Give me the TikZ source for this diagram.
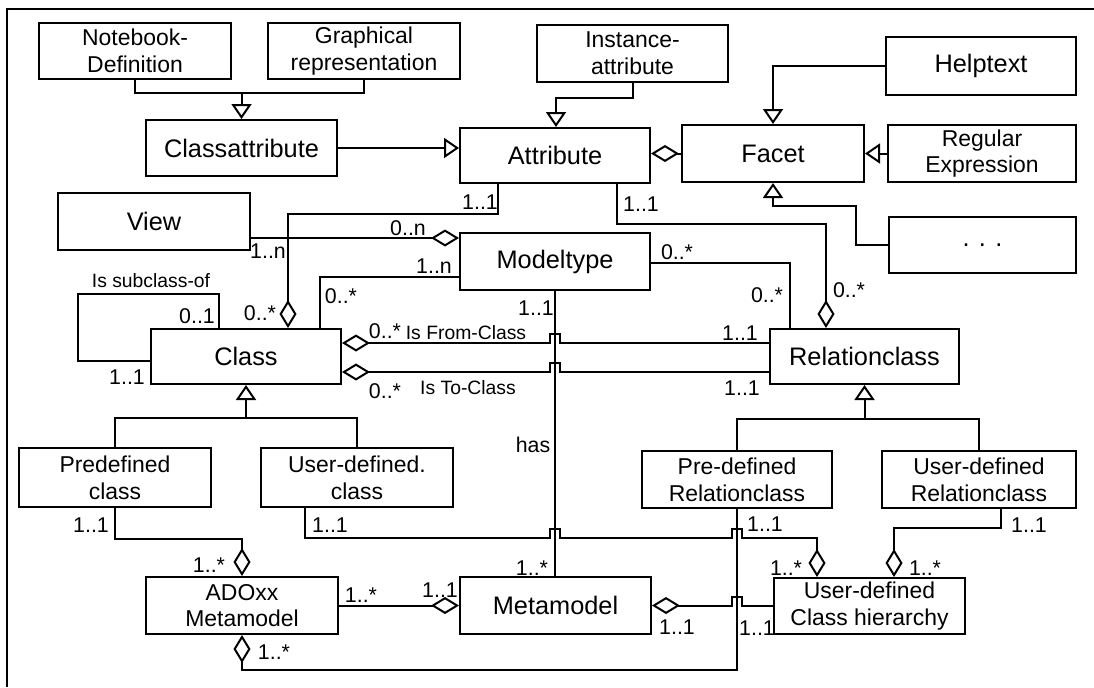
\documentclass[tikz,border=0pt]{standalone}
\usepackage{fontspec}
\setmainfont{Liberation Sans}
\usetikzlibrary{arrows.meta,calc}
\begin{document}
\begin{tikzpicture}[x=0.75pt,y=-0.75pt,
  ln/.style={line width=1.5pt, line join=miter},
  box/.style={draw, line width=1.5pt, inner sep=0pt, align=center, font=\fontsize{19}{22}\selectfont},
  box2/.style={box, font=\fontsize{17.2}{20}\selectfont},
  wh/.style 2 args={minimum width=#1*0.75pt, minimum height=#2*0.75pt},
  gen/.style={ln, -{Triangle[open, length=11.25pt, width=15pt]}},
  dS/.style={ln, {Diamond[open, length=21pt, width=12.75pt]}-},
  dE/.style={ln, -{Diamond[open, length=21pt, width=12.75pt]}},
  hopup/.style={insert path={-- ++(0,-9) -- ++(10,0) -- ++(0,9)}},
  mult/.style={font=\fontsize{16}{18}\selectfont, inner sep=0pt},
  rl/.style={font=\fontsize{14.5}{16}\selectfont, inner sep=0pt},
]
\useasboundingbox (0,0) rectangle (1094,687);
\fill[white] (0,0) rectangle (1094,687);

% frame
\draw[line width=1.3pt] (1094,9) -- (7,9) -- (7,687);

% classes
\node[box2, wh={192}{56}] (nb) at (135,51) {Notebook-\\Definition};
\node[box2, wh={192}{56}] (gr) at (364,51) {Graphical\\representation};
\node[box2, wh={191}{57}] (ia) at (632.5,53.5) {Instance-\\attribute};
\node[box, wh={190}{58}] (hp) at (981,66) {Helptext};
\node[box, wh={191}{56}] (ca) at (241.5,148) {Classattribute};
\node[box, wh={190}{55}] (at) at (555,155.5) {Attribute};
\node[box, wh={182}{57}] (fc) at (773,153.5) {Facet};
\node[box2, wh={188}{57}] (re) at (982,153.5) {Regular\\Expression};
\node[box, wh={192}{57}] (vw) at (154,221.5) {View};
\node[box, wh={190}{57}] (mt) at (555,261.5) {Modeltype};
\node[box, wh={187}{56}] (dt) at (982.5,245) {. . .};
\node[box, wh={190}{55}] (cl) at (246,356.5) {Class};
\node[box, wh={189}{55}] (rc) at (864.5,356.5) {Relationclass};
\node[box2, wh={192}{59}] (pc) at (115,477.5) {Predefined\\class};
\node[box2, wh={192}{59}] (uc) at (357,477.5) {User-defined.\\class};
\node[box2, wh={190}{57}] (pr) at (737,479.5) {Pre-defined\\Relationclass};
\node[box2, wh={194}{57}] (ur) at (979,479.5) {User-defined\\Relationclass};
\node[box2, wh={192}{57}] (ad) at (242,605.5) {ADOxx\\Metamodel};
\node[box, wh={191}{57}] (mm) at (555.5,605.5) {Metamodel};
\node[box2, wh={191}{56}] (uh) at (869.5,606) {User-defined\\Class hierarchy};

% generalisations
\coordinate (j1) at (241.5,93);
\draw[ln] (nb.south) |- (j1) -| (gr.south);
\draw[gen] (j1) -- (ca.north);
\draw[gen] (ca.east) -- (ca.east -| at.west);
\draw[gen] (ia.south) |- ($(at.north)+(1,-29)$) -- ($(at.north)+(1,0)$);
\draw[gen] (hp.west) -| (fc.north);
\draw[gen] (re.west) -- (re.west -| fc.east);
\draw[gen] (dt.west) -| ($(fc.south)+(83,23)$) -| (fc.south);

\coordinate (j4) at ($(cl.south)+(0,33)$);
\draw[ln] (pc.north) |- (j4) -| (uc.north);
\draw[gen] (j4) -- (cl.south);
\coordinate (j5) at ($(rc.south)+(0,34)$);
\draw[ln] (pr.north) |- (j5) -| (ur.north);
\draw[gen] (j5) -- (rc.south);

% aggregations and associations
\draw[dE] (fc.west) -- (fc.west -| at.east);
\draw[dS] ($(cl.north)+(42,0)$) |- ($(at.south)+(-57,30)$) -- ($(at.south)+(-57,0)$);
\draw[dS] ($(rc.north)+(-38.5,0)$) |- ($(at.south)+(62,40)$) -- ($(at.south)+(62,0)$);
\draw[dE] ($(vw.east)+(0,16.5)$) -- ($(mt.west)+(0,-23.5)$);
\draw[ln] ($(mt.west)+(0,15.5)$) -| ($(cl.north)+(74,0)$);
\draw[ln] ($(mt.east)+(0,1.5)$) -| ($(rc.north)+(-74.5,0)$);
\draw[ln] ($(cl.west)+(0,4.5)$) -- ++(-72,0) |- ($(cl.north)+(-27,-34)$) -- ($(cl.north)+(-27,0)$);

\coordinate (fr) at ($(cl.east)+(0,-13.5)$);
\coordinate (to) at ($(cl.east)+(0,15.5)$);
\draw[dS] (fr) -- ($(fr -| mt.south)+(-5,0)$) [hopup] -- (fr -| rc.west);
\draw[dS] (to) -- ($(to -| mt.south)+(-5,0)$) [hopup] -- (to -| rc.west);

\draw[ln] (mt.south) -- (mt.south |- mm.north);

\draw[dS] (ad.north) |- ($(pc.south)+(0,31)$) -- (pc.south);
\coordinate (t0) at ($(uc.south)+(-52,30)$);
\draw[dE] ($(uc.south)+(-52,0)$) -- (t0) -- ($(t0 -| mt.south)+(-5,0)$) [hopup]
  -- ($(t0 -| pr.south)+(-5,0)$) [hopup] -| ($(uh.north)+(-52.5,0)$);
\draw[dS] ($(uh.north)+(24.5,0)$) |- ($(ur.south)+(22,19)$) -- ($(ur.south)+(22,0)$);
\draw[dE] (ad.east) -- (ad.east -| mm.west);
\draw[dS] (mm.east) -- ($(mm.east -| pr.south)+(-5,0)$) [hopup] -- (mm.east -| uh.west);
\draw[dS] (ad.south) |- ($(pr.south)+(0,161)$) -- (pr.south);

% multiplicities and role names
\node[mult] (m1) at (480,202) {1..1};
\node[mult] (m2) at (408,228) {0..n};
\node[mult] (m3) at (268,251) {1..n};
\node[mult] (m4) at (434,266) {1..n};
\node[mult] (m5) at (341,296) {0..*};
\node[rl] (r1) at (151,281) {Is subclass-of};
\node[mult] (m6) at (197,316) {0..1};
\node[mult] (m7) at (260,313) {0..*};
\node[mult] (m8) at (127,377) {1..1};
\node[mult] (m9) at (385,331) {0..*};
\node[rl] (r2) at (466,333) {Is From-Class};
\node[mult] (m10) at (385,391) {0..*};
\node[rl] (r3) at (468,388) {Is To-Class};
\node[mult] (m11) at (536,308) {1..1};
\node[mult] (m12) at (641,204) {1..1};
\node[mult] (m13) at (677,252) {0..*};
\node[mult] (m14) at (767,295) {0..*};
\node[mult] (m15) at (849,290) {0..*};
\node[mult] (m16) at (740,333) {1..1};
\node[mult] (m17) at (742,388) {1..1};
\node[mult] (r4) at (533,445) {has};
\node[mult] (m18) at (91,525) {1..1};
\node[mult] (m19) at (330,525) {1..1};
\node[mult] (m20) at (209,565) {1..*};
\node[mult] (m21) at (361,595) {1..*};
\node[mult] (m22) at (440,590) {1..1};
\node[mult] (m23) at (274,652) {1..*};
\node[mult] (m24) at (532,568) {1..*};
\node[mult] (m25) at (765,524) {1..1};
\node[mult] (m26) at (786,568) {1..*};
\node[mult] (m27) at (1029,525) {1..1};
\node[mult] (m28) at (925,568) {1..*};
\node[mult] (m29) at (677,627) {1..1};
\node[mult] (m30) at (757,628) {1..1};
\end{tikzpicture}
\end{document}
